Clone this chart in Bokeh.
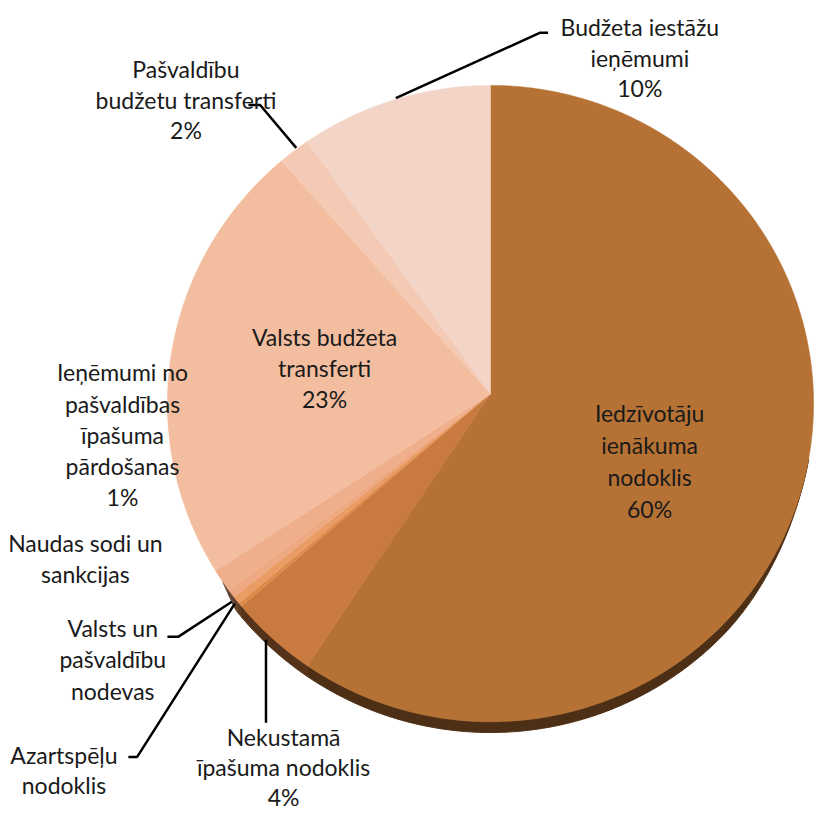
import numpy as np
from bokeh.plotting import figure
from bokeh.models import Range1d
from bokeh.core.properties import value
from bokeh.embed import file_html
from bokeh.resources import INLINE

# ---- data ----
categories = [
    "Iedzīvotāju\nienākuma\nnodoklis",
    "Nekustamā\nīpašuma nodoklis",
    "Azartspēļu\nnodoklis",
    "Valsts un\npašvaldību\nnodevas",
    "Naudas sodi un\nsankcijas",
    "Ieņēmumi no\npašvaldības\nīpašuma\npārdošanas",
    "Valsts budžeta\ntransferti",
    "Pašvaldību\nbudžetu transferti",
    "Budžeta iestāžu\nieņēmumi",
]
shares = [59.6, 4.4, 0.2, 0.4, 0.4, 1.2, 22.6, 1.6, 9.6]

# ---- styles / layout ----
colors = ["#B67234", "#C97A3E", "#DE8A4A", "#E99C63", "#EEA882", "#F0AF8C",
          "#F3BE9F", "#F5CAB5", "#F3D5C8"]
label_pos = [(665, 423), (290, 755), (65, 773), (115, 643), (87, 556),
             (125, 381), (332, 345), (190, 70), (655, 27)]
line_step = [32.5, 30.5, 30.5, 32, 32, 32, 31.5, 31.5, 31.5]
leaders = [
    None,
    [(272, 655), (272, 740)],
    [(240, 618), (140, 775), (131, 775)],
    [(237, 616), (182, 652), (171, 652)],
    None,
    None,
    None,
    [(303, 151), (266, 107), (254, 107)],
    [(405, 100), (553, 33), (561, 33)],
]

CX, CY, RX, RY = 502, 413, 331, 326
AX, AY = 502, 403
DEPTH = 11
DEPTH_FROM, DEPTH_TO = 100.0, 236.0
RAMP = 35.0

W, H = 816, 814
p = figure(width=W, height=H, x_range=Range1d(0, 836), y_range=Range1d(834, 0),
           output_backend="svg", toolbar_location=None, min_border=0)
p.axis.visible = False
p.grid.visible = False
p.outline_line_color = None
p.background_fill_color = "white"
p.border_fill_color = "white"


def darken(h, f):
    h = h.lstrip("#")
    r, g, b = (int(h[i:i + 2], 16) for i in (0, 2, 4))
    return "#%02x%02x%02x" % (int(r * f), int(g * f), int(b * f))


total = float(sum(shares))
ends = np.cumsum(shares) / total * 360.0
starts = np.concatenate([[0.0], ends[:-1]])

side_xs, side_ys, side_cols = [], [], []
top_xs, top_ys = [], []
for s, e, c in zip(starts, ends, colors):
    th = np.radians(np.linspace(s, e, max(4, int((e - s) * 2) + 2)))
    ex = CX + RX * np.sin(th)
    ey = CY - RY * np.cos(th)
    top_xs.append([AX] + list(ex))
    top_ys.append([AY] + list(ey))
    s2, e2 = max(s, DEPTH_FROM), min(e, DEPTH_TO)
    if e2 > s2:
        tdeg = np.linspace(s2, e2, max(4, int((e2 - s2) * 2) + 2))
        t2 = np.radians(tdeg)
        ramp = np.clip((tdeg - DEPTH_FROM) / RAMP, 0, 1)
        ramp = ramp * ramp * (3 - 2 * ramp)
        ramp2 = np.clip((DEPTH_TO - tdeg) / 4.0, 0, 1)
        d = DEPTH * ramp * ramp2
        dx = CX + RX * np.sin(t2)
        dy = CY - RY * np.cos(t2)
        side_xs.append(list(dx) + list(dx[::-1]))
        side_ys.append(list(dy) + list((dy + d)[::-1]))
        side_cols.append(darken(c, 0.42))

p.patches(side_xs, side_ys, fill_color=side_cols, line_color=side_cols, line_width=1)
p.patches(top_xs, top_ys, fill_color=colors, line_color=colors, line_width=0.5)

# leader lines
lx = [[pt[0] for pt in l] for l in leaders if l]
ly = [[pt[1] for pt in l] for l in leaders if l]
p.multi_line(lx, ly, line_color="black", line_width=2.5)

# labels
tx, ty, tt = [], [], []
for name, v, (x0, y0), st in zip(categories, shares, label_pos, line_step):
    lines = name.split("\n")
    pct = round(v / total * 100)
    if pct >= 1:
        lines.append(f"{pct}%")
    for i, ln in enumerate(lines):
        tx.append(x0)
        ty.append(y0 + i * st)
        tt.append(ln)
p.text(tx, ty, text=tt, text_font=value("Lato"), text_font_size="23px",
       text_align="center", text_baseline="middle", text_color="#1a1a1a")

open("out.html", "w").write(file_html(p, INLINE))
